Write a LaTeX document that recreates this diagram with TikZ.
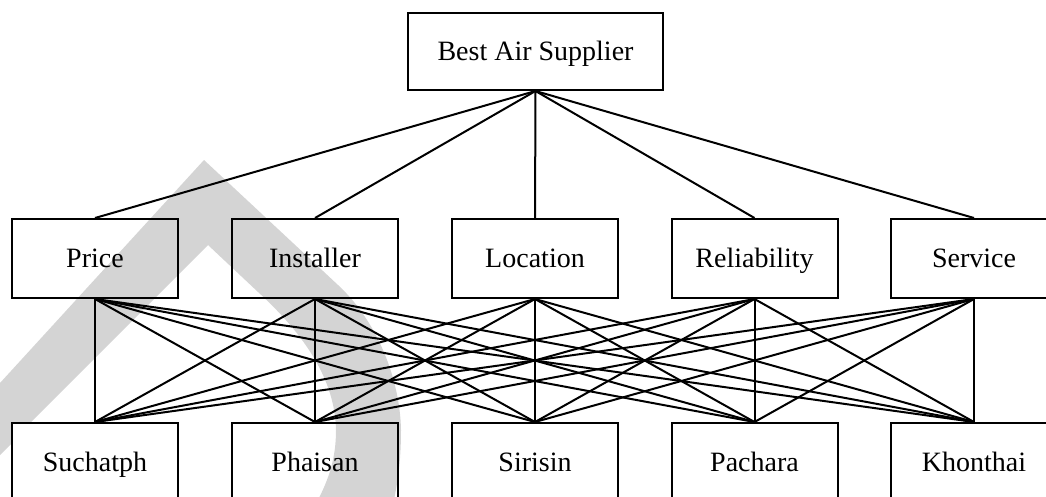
\documentclass[tikz,border=0pt]{standalone}
\usepackage{fontspec}
\setmainfont{Liberation Serif}
\begin{document}
\begin{tikzpicture}[x=1pt,y=-1pt,
  box/.style={draw, line width=2pt, inner sep=0pt, minimum height=79pt,
    text height=18.5pt, text depth=0pt, font=\fontsize{28}{32}\selectfont},
  crit/.style={box, minimum width=166pt},
  link/.style={line width=2pt}]
\useasboundingbox (0,0) rectangle (1046,496);
\clip (0,0) rectangle (1046,496);

% light grey mark behind the hierarchy
\fill[black!17] (204,160) -- (338,285)
  .. controls (378,322) and (400,380) .. (401,430)
  .. controls (401,460) and (398,480) .. (394,500)
  -- (318,500)
  .. controls (328,480) and (336,460) .. (336,430)
  .. controls (335,380) and (305,335) .. (258,292)
  -- (208,245) -- (30,423) -- (12,423) -- (12,443) -- (0,455) -- (0,383) -- cycle;

% goal
\node[box, minimum width=255pt, minimum height=77pt] (goal) at (535.5,51.5) {Best Air Supplier};

% criteria
\node[crit] (c1) at (95,258.5)  {Price};
\node[crit] (c2) at (315,258.5) {Installer};
\node[crit] (c3) at (535,258.5) {Location};
\node[crit] (c4) at (754.5,258.5) {Reliability};
\node[crit] (c5) at (974,258.5) {Service};

% alternatives
\node[crit] (a1) at (95,462.5)  {Suchatph};
\node[crit] (a2) at (315,462.5) {Phaisan};
\node[crit] (a3) at (535,462.5) {Sirisin};
\node[crit] (a4) at (754.5,462.5) {Pachara};
\node[crit] (a5) at (974,462.5) {Khonthai};

% goal to criteria
\foreach \i in {1,...,5}
  \draw[link] (goal.south) -- (c\i.north);

% every criterion to every alternative
\foreach \i in {1,...,5}
  \foreach \j in {1,...,5}
    \draw[link] (c\i.south) -- (a\j.north);
\end{tikzpicture}
\end{document}
